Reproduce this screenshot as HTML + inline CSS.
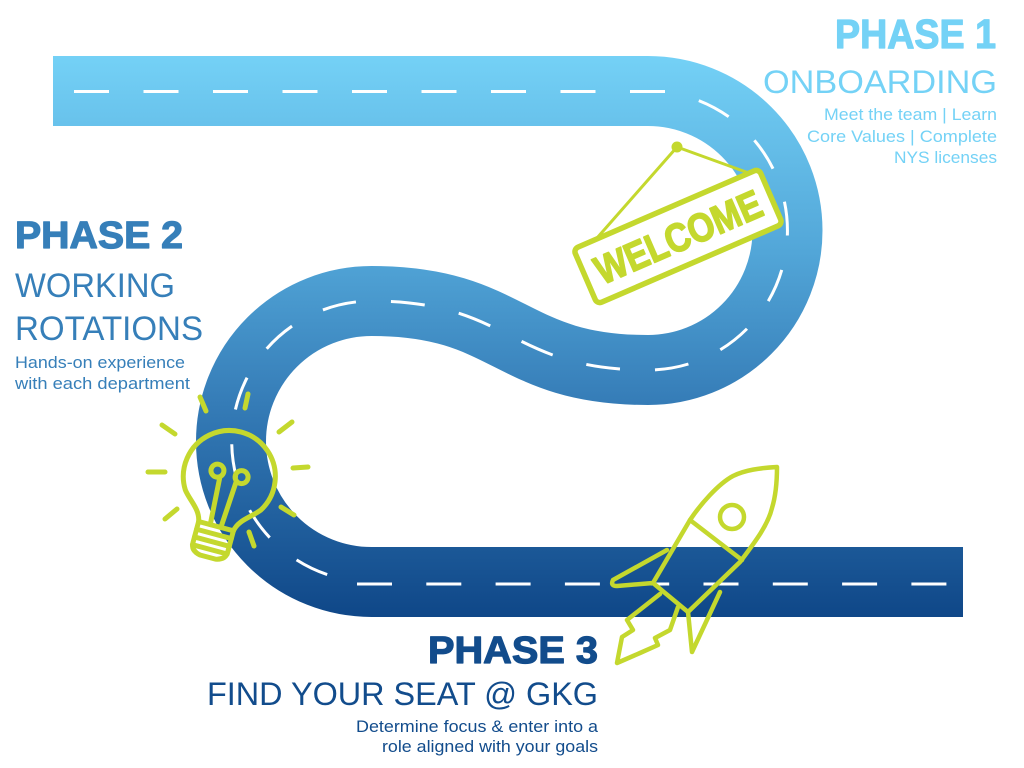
<!DOCTYPE html>
<html>
<head>
<meta charset="utf-8">
<style>
html,body{margin:0;padding:0;background:#fff;width:1024px;height:768px;overflow:hidden;}
svg{display:block;}
.h{font-family:"Liberation Sans",sans-serif;font-weight:bold;}
.t{font-family:"Liberation Sans",sans-serif;font-weight:normal;}
</style>
</head>
<body>
<svg width="1024" height="768" viewBox="0 0 1024 768" xmlns="http://www.w3.org/2000/svg">
<defs>
<linearGradient id="g" gradientUnits="userSpaceOnUse" x1="0" y1="56" x2="0" y2="617">
<stop offset="0" stop-color="#74d1f6"/>
<stop offset="0.35" stop-color="#52a6d8"/>
<stop offset="0.62" stop-color="#357cb7"/>
<stop offset="1" stop-color="#0f4788"/>
</linearGradient>
</defs>

<!-- Road -->
<path d="M53,91 H648 A139.5,139.5 0 0 1 648,370 C508,370 511.5,301 371.5,301 A140.5,140.5 0 0 0 371.5,582 H963" fill="none" stroke="url(#g)" stroke-width="70"/>

<!-- Dashes -->
<g fill="none" stroke="#ffffff" stroke-width="3">
<path d="M74,91.5 H670" stroke-dasharray="35 34.5"/>
<path d="M698.8,100.6 A139.5,139.5 0 0 1 648,370 C508,370 511.5,301 371.5,301 A140.5,140.5 0 0 0 330,575.5" stroke-dasharray="34 35"/>
<path d="M357,584 H963" stroke-dasharray="35 34.3"/>
</g>

<!-- Welcome sign -->
<g stroke="#c4d82e" fill="none" stroke-linecap="round">
<line x1="677" y1="147" x2="597" y2="238" stroke-width="3"/>
<line x1="677" y1="147" x2="746" y2="172" stroke-width="3"/>
</g>
<circle cx="677" cy="147" r="5.5" fill="#c4d82e"/>
<g transform="translate(678,236.5) rotate(-23.4)">
<rect x="-101" y="-30" width="202" height="60" rx="5" fill="#ffffff" stroke="#c4d82e" stroke-width="5.5"/>
<text class="h" x="-89" y="14.5" font-size="40" fill="#c4d82e" stroke="#c4d82e" stroke-width="1.6" stroke-linejoin="round" textLength="178" lengthAdjust="spacingAndGlyphs">WELCOME</text>
</g>

<!-- Light bulb -->
<g stroke="#c4d82e" fill="none" stroke-width="5" stroke-linecap="round" stroke-linejoin="round">
<line x1="200" y1="397" x2="206" y2="411"/>
<line x1="248" y1="394" x2="245" y2="408"/>
<line x1="292" y1="422" x2="279" y2="432"/>
<line x1="293" y1="468" x2="308" y2="467"/>
<line x1="281" y1="507" x2="294" y2="515"/>
<line x1="249" y1="532" x2="254" y2="546"/>
<line x1="162" y1="425" x2="175" y2="434"/>
<line x1="148" y1="472" x2="165" y2="472"/>
<line x1="165" y1="519" x2="177" y2="509"/>
<g transform="translate(230,474) rotate(15)">
<path d="M-18,54 C-20,42 -32,36 -39,27 A46,46 0 1 1 39,27 C32,36 20,42 18,54"/>
<path d="M-18,54 L-18,76 Q-18,84 -8,86 L8,86 Q18,84 18,76 L18,54 Z"/>
<line x1="-18" y1="62" x2="18" y2="62"/>
<line x1="-18" y1="70" x2="18" y2="70"/>
<line x1="-18" y1="78" x2="18" y2="78"/>
<circle cx="-13" cy="0" r="6.5"/>
<circle cx="12" cy="0" r="6.5"/>
<line x1="-9" y1="5.5" x2="-6" y2="54"/>
<line x1="8" y1="5.5" x2="5" y2="54"/>
</g>
</g>

<!-- Rocket -->
<g stroke="#c4d82e" fill="none" stroke-width="4.5" stroke-linecap="round" stroke-linejoin="round">
<path d="M777,467 C760,468 745,470 733,476 C718,484 700,505 690,520 L653,583 L688,612 L740,562 C755,542 768,525 772,508 C776,495 777,480 777,467 Z"/>
<line x1="690" y1="520" x2="742" y2="560"/>
<circle cx="732" cy="517" r="12"/>
<path d="M667,550 L613,580 Q610,586 617,586 L653,583"/>
<path d="M720,592 L692,652 L688,612"/>
<path d="M660,594 L627,620 L633,630 L622,637 L617,663 L640,653 L658,645 L655,638 L670,630 L678,607"/>
</g>

<!-- Phase 1 text -->
<text class="h" x="835" y="48" font-size="41" fill="#74d2f6" stroke="#74d2f6" stroke-width="1.2" stroke-linejoin="round" textLength="161" lengthAdjust="spacingAndGlyphs">PHASE 1</text>
<text class="t" x="763" y="93" font-size="32" fill="#74d2f6" textLength="234" lengthAdjust="spacingAndGlyphs">ONBOARDING</text>
<text class="t" x="824" y="120" font-size="16.5" fill="#74d2f6" textLength="173" lengthAdjust="spacingAndGlyphs">Meet the team | Learn</text>
<text class="t" x="807" y="142" font-size="16.5" fill="#74d2f6" textLength="190" lengthAdjust="spacingAndGlyphs">Core Values | Complete</text>
<text class="t" x="894" y="163" font-size="16.5" fill="#74d2f6" textLength="103" lengthAdjust="spacingAndGlyphs">NYS licenses</text>

<!-- Phase 2 text -->
<text class="h" x="15" y="248" font-size="38" fill="#367fb9" stroke="#367fb9" stroke-width="1.2" stroke-linejoin="round" textLength="168" lengthAdjust="spacingAndGlyphs">PHASE 2</text>
<text class="t" x="15" y="297" font-size="34" fill="#367fb9" textLength="160" lengthAdjust="spacingAndGlyphs">WORKING</text>
<text class="t" x="15" y="340" font-size="34" fill="#367fb9" textLength="188" lengthAdjust="spacingAndGlyphs">ROTATIONS</text>
<text class="t" x="15" y="368" font-size="16.5" fill="#367fb9" textLength="170" lengthAdjust="spacingAndGlyphs">Hands-on experience</text>
<text class="t" x="15" y="389" font-size="16.5" fill="#367fb9" textLength="175" lengthAdjust="spacingAndGlyphs">with each department</text>

<!-- Phase 3 text -->
<text class="h" x="428" y="663" font-size="38" fill="#124c8c" stroke="#124c8c" stroke-width="1.2" stroke-linejoin="round" textLength="170" lengthAdjust="spacingAndGlyphs">PHASE 3</text>
<text class="t" x="207" y="705" font-size="32" fill="#124c8c" textLength="391" lengthAdjust="spacingAndGlyphs">FIND YOUR SEAT @ GKG</text>
<text class="t" x="356" y="732" font-size="16.5" fill="#124c8c" textLength="242" lengthAdjust="spacingAndGlyphs">Determine focus &amp; enter into a</text>
<text class="t" x="382" y="752" font-size="16.5" fill="#124c8c" textLength="216" lengthAdjust="spacingAndGlyphs">role aligned with your goals</text>
</svg>
</body>
</html>
